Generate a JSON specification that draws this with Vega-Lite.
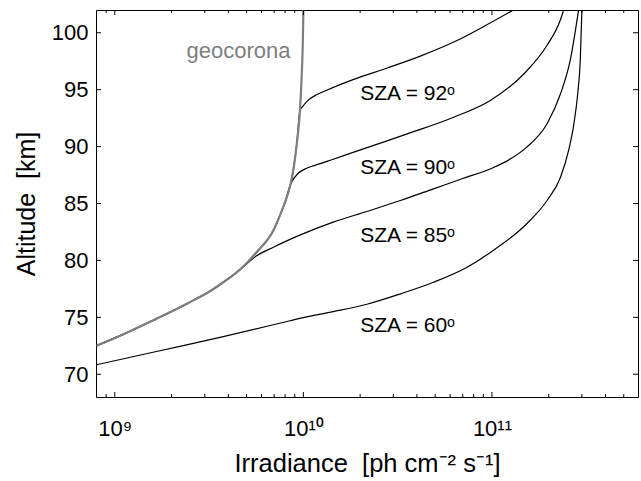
{
  "$schema": "https://vega.github.io/schema/vega-lite/v6.json",
  "width": 542,
  "height": 387,
  "autosize": {"type": "none"},
  "padding": {"left": 96, "top": 10, "right": 3, "bottom": 84},
  "background": "white",
  "config": {
    "view": {"stroke": "black", "strokeWidth": 1},
    "font": "Liberation Sans",
    "axis": {
      "domain": false,
      "ticks": false,
      "labelColor": "black",
      "labelFont": "Liberation Sans",
      "labelFontSize": 22,
      "titleFont": "Liberation Sans",
      "titleFontSize": 25,
      "titleFontWeight": "normal",
      "titleColor": "black",
      "grid": false
    }
  },
  "datasets": {
    "curves": [
      {"sza": 60, "irr": 8.0e8, "alt": 70.83},
      {"sza": 60, "irr": 1.663e9, "alt": 72.0},
      {"sza": 60, "irr": 3.76e9, "alt": 73.3},
      {"sza": 60, "irr": 8.5e9, "alt": 74.7},
      {"sza": 60, "irr": 1.0e10, "alt": 74.98},
      {"sza": 60, "irr": 1.44e10, "alt": 75.5},
      {"sza": 60, "irr": 2.17e10, "alt": 76.15},
      {"sza": 60, "irr": 3.27e10, "alt": 77.06},
      {"sza": 60, "irr": 4.9e10, "alt": 78.08},
      {"sza": 60, "irr": 7.38e10, "alt": 79.4},
      {"sza": 60, "irr": 1.02e11, "alt": 80.9},
      {"sza": 60, "irr": 1.53e11, "alt": 83.22},
      {"sza": 60, "irr": 1.96e11, "alt": 85.26},
      {"sza": 60, "irr": 2.31e11, "alt": 87.31},
      {"sza": 60, "irr": 2.55e11, "alt": 89.66},
      {"sza": 60, "irr": 2.72e11, "alt": 92.0},
      {"sza": 60, "irr": 2.85e11, "alt": 94.64},
      {"sza": 60, "irr": 2.94e11, "alt": 97.57},
      {"sza": 60, "irr": 3.0e11, "alt": 102},

      {"sza": 85, "irr": 8.0e8, "alt": 72.5},
      {"sza": 85, "irr": 1.107e9, "alt": 73.5},
      {"sza": 85, "irr": 1.663e9, "alt": 74.87},
      {"sza": 85, "irr": 2.5e9, "alt": 76.33},
      {"sza": 85, "irr": 3.07e9, "alt": 77.11},
      {"sza": 85, "irr": 3.76e9, "alt": 78.08},
      {"sza": 85, "irr": 4.61e9, "alt": 79.19},
      {"sza": 85, "irr": 5.65e9, "alt": 80.4},
      {"sza": 85, "irr": 6.93e9, "alt": 81.16},
      {"sza": 85, "irr": 8.5e9, "alt": 81.85},
      {"sza": 85, "irr": 1.0e10, "alt": 82.35},
      {"sza": 85, "irr": 1.44e10, "alt": 83.36},
      {"sza": 85, "irr": 2.17e10, "alt": 84.3},
      {"sza": 85, "irr": 3.27e10, "alt": 85.26},
      {"sza": 85, "irr": 4.9e10, "alt": 86.29},
      {"sza": 85, "irr": 7.0e10, "alt": 87.2},
      {"sza": 85, "irr": 1.0e11, "alt": 88.1},
      {"sza": 85, "irr": 1.25e11, "alt": 88.9},
      {"sza": 85, "irr": 1.53e11, "alt": 89.95},
      {"sza": 85, "irr": 1.96e11, "alt": 92.0},
      {"sza": 85, "irr": 2.31e11, "alt": 94.64},
      {"sza": 85, "irr": 2.6e11, "alt": 97.57},
      {"sza": 85, "irr": 2.88e11, "alt": 102},

      {"sza": 90, "irr": 8.0e8, "alt": 72.5},
      {"sza": 90, "irr": 1.107e9, "alt": 73.5},
      {"sza": 90, "irr": 1.663e9, "alt": 74.87},
      {"sza": 90, "irr": 2.5e9, "alt": 76.33},
      {"sza": 90, "irr": 3.07e9, "alt": 77.11},
      {"sza": 90, "irr": 3.76e9, "alt": 78.08},
      {"sza": 90, "irr": 4.61e9, "alt": 79.19},
      {"sza": 90, "irr": 5.65e9, "alt": 80.72},
      {"sza": 90, "irr": 6.93e9, "alt": 82.63},
      {"sza": 90, "irr": 7.7e9, "alt": 84.4},
      {"sza": 90, "irr": 7.95e9, "alt": 85.0},
      {"sza": 90, "irr": 8.55e9, "alt": 86.7},
      {"sza": 90, "irr": 9.4e9, "alt": 87.66},
      {"sza": 90, "irr": 1.04e10, "alt": 88.1},
      {"sza": 90, "irr": 1.23e10, "alt": 88.5},
      {"sza": 90, "irr": 1.39e10, "alt": 88.8},
      {"sza": 90, "irr": 2.08e10, "alt": 89.8},
      {"sza": 90, "irr": 2.78e10, "alt": 90.5},
      {"sza": 90, "irr": 3.68e10, "alt": 91.2},
      {"sza": 90, "irr": 6.27e10, "alt": 92.58},
      {"sza": 90, "irr": 9.8e10, "alt": 94.05},
      {"sza": 90, "irr": 1.48e11, "alt": 96.4},
      {"sza": 90, "irr": 1.96e11, "alt": 98.9},
      {"sza": 90, "irr": 2.3e11, "alt": 101.08},
      {"sza": 90, "irr": 2.4e11, "alt": 102},

      {"sza": 92, "irr": 8.0e8, "alt": 72.5},
      {"sza": 92, "irr": 1.107e9, "alt": 73.5},
      {"sza": 92, "irr": 1.663e9, "alt": 74.87},
      {"sza": 92, "irr": 2.5e9, "alt": 76.33},
      {"sza": 92, "irr": 3.07e9, "alt": 77.11},
      {"sza": 92, "irr": 3.76e9, "alt": 78.08},
      {"sza": 92, "irr": 4.61e9, "alt": 79.19},
      {"sza": 92, "irr": 5.65e9, "alt": 80.72},
      {"sza": 92, "irr": 6.93e9, "alt": 82.63},
      {"sza": 92, "irr": 7.7e9, "alt": 84.4},
      {"sza": 92, "irr": 7.95e9, "alt": 85.0},
      {"sza": 92, "irr": 8.55e9, "alt": 86.7},
      {"sza": 92, "irr": 8.75e9, "alt": 87.5},
      {"sza": 92, "irr": 9.23e9, "alt": 90.25},
      {"sza": 92, "irr": 9.59e9, "alt": 93.17},
      {"sza": 92, "irr": 1.0e10, "alt": 93.6},
      {"sza": 92, "irr": 1.065e10, "alt": 94.1},
      {"sza": 92, "irr": 1.175e10, "alt": 94.55},
      {"sza": 92, "irr": 1.33e10, "alt": 94.95},
      {"sza": 92, "irr": 1.85e10, "alt": 95.9},
      {"sza": 92, "irr": 2.78e10, "alt": 96.9},
      {"sza": 92, "irr": 4.17e10, "alt": 97.95},
      {"sza": 92, "irr": 6.4e10, "alt": 99.25},
      {"sza": 92, "irr": 9.4e10, "alt": 100.7},
      {"sza": 92, "irr": 1.3e11, "alt": 102}
    ],
    "geo": [
      {"irr": 8.0e8, "alt": 72.5},
      {"irr": 1.107e9, "alt": 73.5},
      {"irr": 1.663e9, "alt": 74.87},
      {"irr": 2.5e9, "alt": 76.33},
      {"irr": 3.07e9, "alt": 77.11},
      {"irr": 3.76e9, "alt": 78.08},
      {"irr": 4.61e9, "alt": 79.19},
      {"irr": 5.65e9, "alt": 80.72},
      {"irr": 6.93e9, "alt": 82.63},
      {"irr": 7.7e9, "alt": 84.4},
      {"irr": 7.95e9, "alt": 85.0},
      {"irr": 8.55e9, "alt": 86.7},
      {"irr": 8.75e9, "alt": 87.5},
      {"irr": 9.23e9, "alt": 90.25},
      {"irr": 9.59e9, "alt": 93.17},
      {"irr": 9.79e9, "alt": 96.1},
      {"irr": 9.93e9, "alt": 99.03},
      {"irr": 1.0e10, "alt": 102}
    ],
    "labels": [
      {"text": "SZA = 92ᵒ", "irr": 2.0e10, "alt": 94.1},
      {"text": "SZA = 90ᵒ", "irr": 2.0e10, "alt": 87.56},
      {"text": "SZA = 85ᵒ", "irr": 2.0e10, "alt": 81.6},
      {"text": "SZA = 60ᵒ", "irr": 2.0e10, "alt": 73.75}
    ],
    "geolabel": [
      {"text": "geocorona", "irr": 2.4e9, "alt": 97.8}
    ],
    "xmajor": [{"irr": 1e9}, {"irr": 1e10}, {"irr": 1e11}],
    "xminor": [
      {"irr": 9e8},
      {"irr": 2e9}, {"irr": 3e9}, {"irr": 4e9}, {"irr": 5e9}, {"irr": 6e9}, {"irr": 7e9}, {"irr": 8e9}, {"irr": 9e9},
      {"irr": 2e10}, {"irr": 3e10}, {"irr": 4e10}, {"irr": 5e10}, {"irr": 6e10}, {"irr": 7e10}, {"irr": 8e10}, {"irr": 9e10},
      {"irr": 2e11}, {"irr": 3e11}, {"irr": 4e11}, {"irr": 5e11}
    ],
    "yticks": [{"alt": 70}, {"alt": 75}, {"alt": 80}, {"alt": 85}, {"alt": 90}, {"alt": 95}, {"alt": 100}]
  },
  "layer": [
    {
      "data": {"name": "curves"},
      "mark": {"type": "line", "color": "black", "strokeWidth": 1.2, "interpolate": "monotone", "clip": true},
      "encoding": {
        "x": {
          "field": "irr", "type": "quantitative",
          "scale": {"type": "log", "domain": [7.95e8, 5.95e11], "nice": false},
          "axis": {
            "orient": "bottom",
            "title": "Irradiance\u00a0 [ph cm⁻² s⁻¹]",
            "titleFontSize": 25.5,
            "values": [1e9, 1e10, 1e11],
            "labelExpr": "datum.value === 1e9 ? '10⁹' : datum.value === 1e10 ? '10¹⁰' : datum.value === 1e11 ? '10¹¹' : ''",
            "labelOverlap": false,
            "labelFlush": false,
            "labelBaseline": "alphabetic",
            "labelPadding": 38.5,
            "titleBaseline": "alphabetic",
            "titlePadding": 32
          }
        },
        "y": {
          "field": "alt", "type": "quantitative",
          "scale": {"domain": [68, 102], "nice": false, "zero": false},
          "axis": {
            "orient": "left",
            "title": "Altitude\u00a0 [km]",
            "values": [70, 75, 80, 85, 90, 95, 100],
            "labelPadding": 8,
            "titlePadding": 12
          }
        },
        "detail": {"field": "sza", "type": "nominal"},
        "order": {"field": "alt", "type": "quantitative"}
      }
    },
    {
      "data": {"name": "geo"},
      "mark": {"type": "line", "color": "#7f7f7f", "strokeWidth": 2.2, "interpolate": "monotone", "clip": true},
      "encoding": {
        "x": {"field": "irr", "type": "quantitative", "axis": null},
        "y": {"field": "alt", "type": "quantitative", "axis": null},
        "order": {"field": "alt", "type": "quantitative"}
      }
    },
    {
      "data": {"name": "labels"},
      "mark": {"type": "text", "align": "left", "baseline": "alphabetic", "fontSize": 21, "font": "Liberation Sans", "color": "black"},
      "encoding": {
        "x": {"field": "irr", "type": "quantitative", "axis": null},
        "y": {"field": "alt", "type": "quantitative", "axis": null},
        "text": {"field": "text", "type": "nominal"}
      }
    },
    {
      "data": {"name": "geolabel"},
      "mark": {"type": "text", "align": "left", "baseline": "alphabetic", "fontSize": 22, "font": "Liberation Sans", "color": "#7f7f7f"},
      "encoding": {
        "x": {"field": "irr", "type": "quantitative", "axis": null},
        "y": {"field": "alt", "type": "quantitative", "axis": null},
        "text": {"field": "text", "type": "nominal"}
      }
    },
    {
      "data": {"name": "xmajor"},
      "mark": {"type": "rule", "color": "black", "strokeWidth": 1},
      "encoding": {
        "x": {"field": "irr", "type": "quantitative", "axis": null},
        "y": {"datum": 68, "type": "quantitative", "axis": null},
        "y2": {"datum": 68.44}
      }
    },
    {
      "data": {"name": "xmajor"},
      "mark": {"type": "rule", "color": "black", "strokeWidth": 1},
      "encoding": {
        "x": {"field": "irr", "type": "quantitative", "axis": null},
        "y": {"datum": 102, "type": "quantitative", "axis": null},
        "y2": {"datum": 101.56}
      }
    },
    {
      "data": {"name": "xminor"},
      "mark": {"type": "rule", "color": "black", "strokeWidth": 1},
      "encoding": {
        "x": {"field": "irr", "type": "quantitative", "axis": null},
        "y": {"datum": 68, "type": "quantitative", "axis": null},
        "y2": {"datum": 68.26}
      }
    },
    {
      "data": {"name": "xminor"},
      "mark": {"type": "rule", "color": "black", "strokeWidth": 1},
      "encoding": {
        "x": {"field": "irr", "type": "quantitative", "axis": null},
        "y": {"datum": 102, "type": "quantitative", "axis": null},
        "y2": {"datum": 101.74}
      }
    },
    {
      "data": {"name": "yticks"},
      "mark": {"type": "rule", "color": "black", "strokeWidth": 1},
      "encoding": {
        "x": {"datum": 7.95e8, "type": "quantitative", "axis": null},
        "x2": {"datum": 8.45e8},
        "y": {"field": "alt", "type": "quantitative", "axis": null}
      }
    },
    {
      "data": {"name": "yticks"},
      "mark": {"type": "rule", "color": "black", "strokeWidth": 1},
      "encoding": {
        "x": {"datum": 5.95e11, "type": "quantitative", "axis": null},
        "x2": {"datum": 5.6e11},
        "y": {"field": "alt", "type": "quantitative", "axis": null}
      }
    }
  ],
  "resolve": {"axis": {"x": "independent", "y": "independent"}}
}
